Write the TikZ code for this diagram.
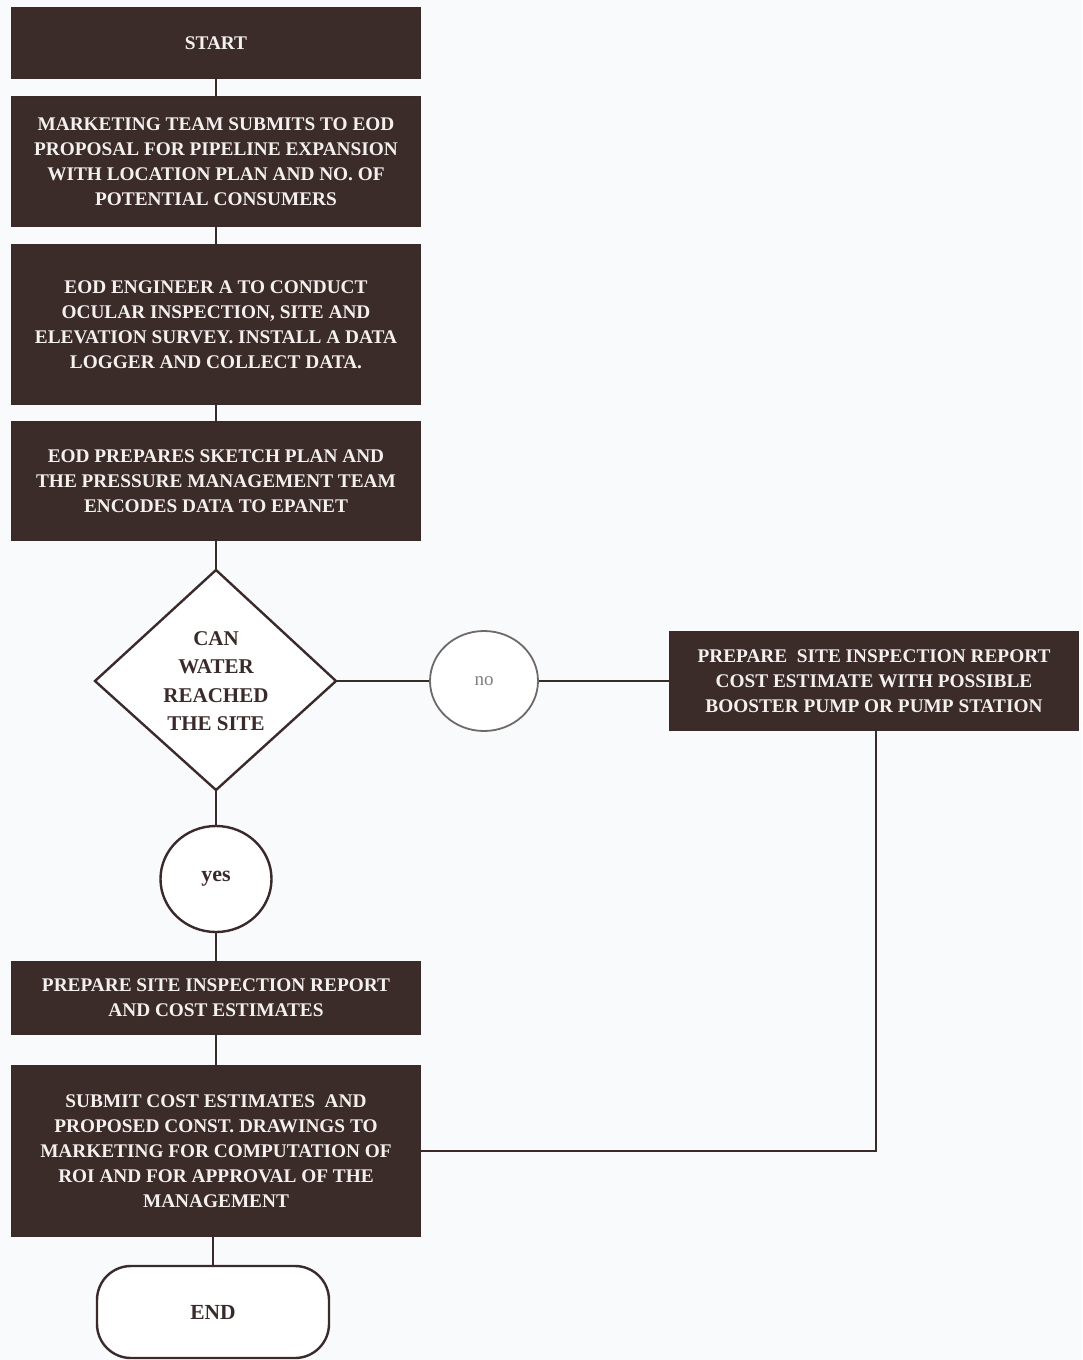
\documentclass[tikz,border=0pt]{standalone}
\usepackage{fontspec}
\setmainfont{Liberation Serif}
\usetikzlibrary{shapes.geometric}
\definecolor{boxfill}{HTML}{3B2C2A}
\definecolor{inkline}{HTML}{3A2A2A}
\definecolor{boxtext}{HTML}{F4F0EE}
\definecolor{paper}{HTML}{F8FAFC}
\begin{document}
\begin{tikzpicture}[x=1pt,y=-1pt,
  stepbox/.style={draw=inkline, line width=1.2pt, fill=boxfill, text=boxtext,
    font=\bfseries\fontsize{19.3}{25}\selectfont, align=center, inner sep=0pt,
    minimum width=408pt},
  link/.style={draw=inkline, line width=2.8pt},
  ring/.style={draw=inkline, line width=2.4pt, fill=white, ellipse, inner sep=0pt}]
\fill[paper] (0,0) rectangle (1082,1360);
\useasboundingbox (0,0) rectangle (1082,1360);

\node[stepbox, minimum height=70pt] (start) at (216,43) {START};
\node[stepbox, minimum height=129pt] (propose) at (216,161.5)
  {MARKETING TEAM SUBMITS TO EOD\\PROPOSAL FOR PIPELINE EXPANSION\\WITH LOCATION PLAN AND NO. OF\\POTENTIAL CONSUMERS};
\node[stepbox, minimum height=159pt] (survey) at (216,324.5)
  {EOD ENGINEER A TO CONDUCT\\OCULAR INSPECTION, SITE AND\\ELEVATION SURVEY. INSTALL A DATA\\LOGGER AND COLLECT DATA.};
\node[stepbox, minimum height=118pt] (sketch) at (216,481)
  {EOD PREPARES SKETCH PLAN AND\\THE PRESSURE MANAGEMENT TEAM\\ENCODES DATA TO EPANET};

% decision diamond
\draw[inkline, line width=2.4pt, fill=white, line join=miter] (216,570) -- (336,681) -- (216,790) -- (95,681) -- cycle;
\coordinate (dtop) at (216,570);
\coordinate (dright) at (336,681);
\coordinate (dbottom) at (216,790);
\node[text=inkline, font=\bfseries\fontsize{21}{28.5}\selectfont, align=center] (ask) at (216,681)
  {CAN\\WATER\\REACHED\\THE SITE};

\node[ring, draw=gray!75!inkline, line width=1.8pt, minimum width=108pt, minimum height=100pt,
  text=gray, font=\fontsize{19}{22}\selectfont] (no) at (484,681) {no};
\node[stepbox, minimum width=408pt, minimum height=98pt] (booster) at (874,681)
  {PREPARE \ SITE INSPECTION REPORT\\COST ESTIMATE WITH POSSIBLE\\BOOSTER PUMP OR PUMP STATION};

\node[ring, minimum width=111pt, minimum height=106pt, text=inkline,
  font=\bfseries\fontsize{22}{24}\selectfont] (yes) at (216,879) {yes};

\node[stepbox, minimum height=72pt] (report) at (216,998)
  {PREPARE SITE INSPECTION REPORT\\AND COST ESTIMATES};
\node[stepbox, minimum height=170pt] (submit) at (216,1151)
  {SUBMIT COST ESTIMATES \ AND\\PROPOSED CONST. DRAWINGS TO\\MARKETING FOR COMPUTATION OF\\ROI AND FOR APPROVAL OF THE\\MANAGEMENT};

\node[draw=inkline, line width=2.4pt, fill=white, rounded corners=34pt,
  minimum width=232pt, minimum height=92pt, text=inkline,
  font=\bfseries\fontsize{21.5}{24}\selectfont] (finish) at (213,1312) {END};

% connectors
\draw[link] (start) -- (propose);
\draw[link] (propose) -- (survey);
\draw[link] (survey) -- (sketch);
\draw[link] (sketch) -- (dtop);
\draw[link] (dright) -- (no);
\draw[link] (no) -- (booster);
\draw[link] (dbottom) -- (yes);
\draw[link] (yes) -- (report);
\draw[link] (report) -- (submit);
\draw[link] (submit.south -| finish.north) -- (finish.north);
\draw[link] (booster.south) ++(2,0) coordinate (bdrop) -- (bdrop |- submit.east) -- (submit.east);
\end{tikzpicture}
\end{document}
